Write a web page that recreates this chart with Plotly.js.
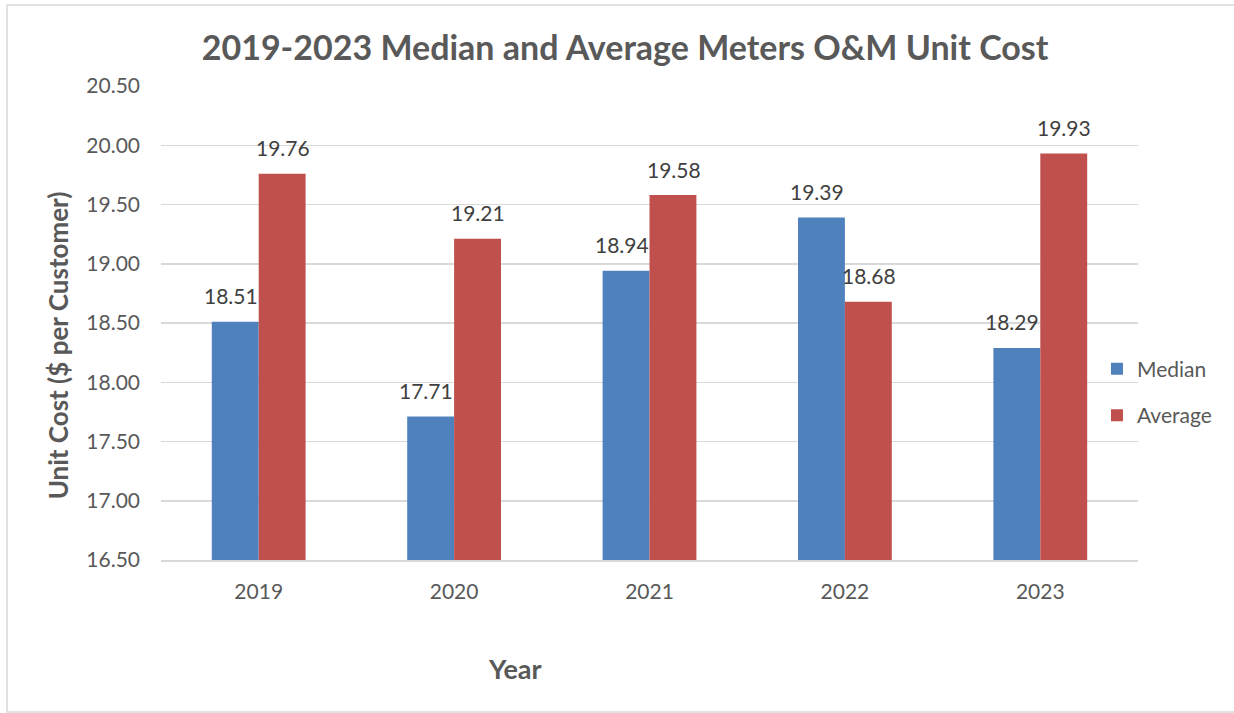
<!DOCTYPE html>
<html>
<head>
<meta charset="utf-8">
<script src="https://cdn.plot.ly/plotly-3.0.1.min.js"></script>
<style>
  html, body { margin: 0; padding: 0; background: #ffffff; }
  #graph { width: 1234px; height: 713px; }
</style>
</head>
<body>
<div id="graph"></div>
<script>
// chart data
var years = ['2019', '2020', '2021', '2022', '2023'];
var medianCost = [18.51, 17.71, 18.94, 19.39, 18.29];
var averageCost = [19.76, 19.21, 19.58, 18.68, 19.93];
var yTicks = [16.5, 17, 17.5, 18, 18.5, 19, 19.5, 20, 20.5];

var txtColor = '#595959';
var fontFam = 'Lato, "Open Sans", sans-serif';

var traces = [
  {
    type: 'bar',
    name: 'Median',
    x: years,
    y: medianCost,
    marker: { color: '#4F81BD' },
    hoverinfo: 'none',
    legendgroup: 'a'
  },
  {
    type: 'bar',
    name: 'Average',
    x: years,
    y: averageCost,
    marker: { color: '#C0504D' },
    hoverinfo: 'none',
    legendgroup: 'b'
  }
];

// data labels above each bar (x given as category index)
var annotations = [];
for (var i = 0; i < years.length; i++) {
  annotations.push({
    x: i, y: medianCost[i], xref: 'x', yref: 'y',
    text: medianCost[i].toFixed(2), showarrow: false,
    xshift: -28, yshift: 26,
    font: { family: fontFam, size: 21, color: '#404040' }
  });
  annotations.push({
    x: i, y: averageCost[i], xref: 'x', yref: 'y',
    text: averageCost[i].toFixed(2), showarrow: false,
    xshift: 24, yshift: 26,
    font: { family: fontFam, size: 21, color: '#404040' }
  });
}
// axis titles
annotations.push({
  x: 0.362, y: -0.228, xref: 'paper', yref: 'paper',
  xanchor: 'center', yanchor: 'middle',
  text: '<b>Year</b>', showarrow: false,
  font: { family: fontFam, size: 27, color: txtColor }
});
annotations.push({
  x: -0.1054, y: 0.453, xref: 'paper', yref: 'paper',
  xanchor: 'center', yanchor: 'middle',
  text: '<b>Unit Cost ($ per Customer)</b>', showarrow: false, textangle: -90,
  font: { family: fontFam, size: 26, color: txtColor }
});

var layout = {
  width: 1234,
  height: 713,
  margin: { l: 161, r: 96, t: 86, b: 153 },
  paper_bgcolor: '#ffffff',
  plot_bgcolor: '#ffffff',
  font: { family: fontFam, size: 21, color: txtColor },
  title: {
    text: '<b>2019-2023 Median and Average Meters O&M Unit Cost</b>',
    x: 0.475, xref: 'paper', xanchor: 'center',
    y: 0.933, yanchor: 'middle',
    font: { family: fontFam, size: 34, color: txtColor }
  },
  barmode: 'group',
  bargap: 0.52,
  bargroupgap: 0,
  xaxis: {
    type: 'category',
    range: [-0.5, 4.5],
    autorange: false,
    showline: true,
    linecolor: '#D9D9D9',
    linewidth: 1.5,
    ticks: '',
    ticklabelstandoff: 12,
    tickfont: { family: fontFam, size: 21, color: txtColor }
  },
  yaxis: {
    range: [16.5, 20.5],
    autorange: false,
    tickvals: yTicks,
    ticktext: yTicks.map(function (v) { return v.toFixed(2); }),
    showgrid: true,
    gridcolor: '#D9D9D9',
    gridwidth: 1.5,
    zeroline: false,
    ticks: '',
    ticklabelstandoff: 20,
    tickfont: { family: fontFam, size: 21, color: txtColor }
  },
  showlegend: true,
  legend: {
    x: 0.958, xanchor: 'left',
    y: 0.354, yanchor: 'middle',
    bgcolor: 'rgba(0,0,0,0)',
    traceorder: 'grouped',
    tracegroupgap: 16,
    itemwidth: 30,
    font: { family: fontFam, size: 21, color: txtColor }
  },
  shapes: [
    {
      type: 'rect', xref: 'paper', yref: 'paper',
      x0: -0.1576, x1: 1.1003, y0: -0.3207, y1: 1.1709,
      line: { color: '#D9D9D9', width: 1.5 },
      fillcolor: 'rgba(0,0,0,0)',
      layer: 'below'
    }
  ],
  annotations: annotations
};

Plotly.newPlot('graph', traces, layout, { displayModeBar: false, staticPlot: true });
</script>
</body>
</html>
